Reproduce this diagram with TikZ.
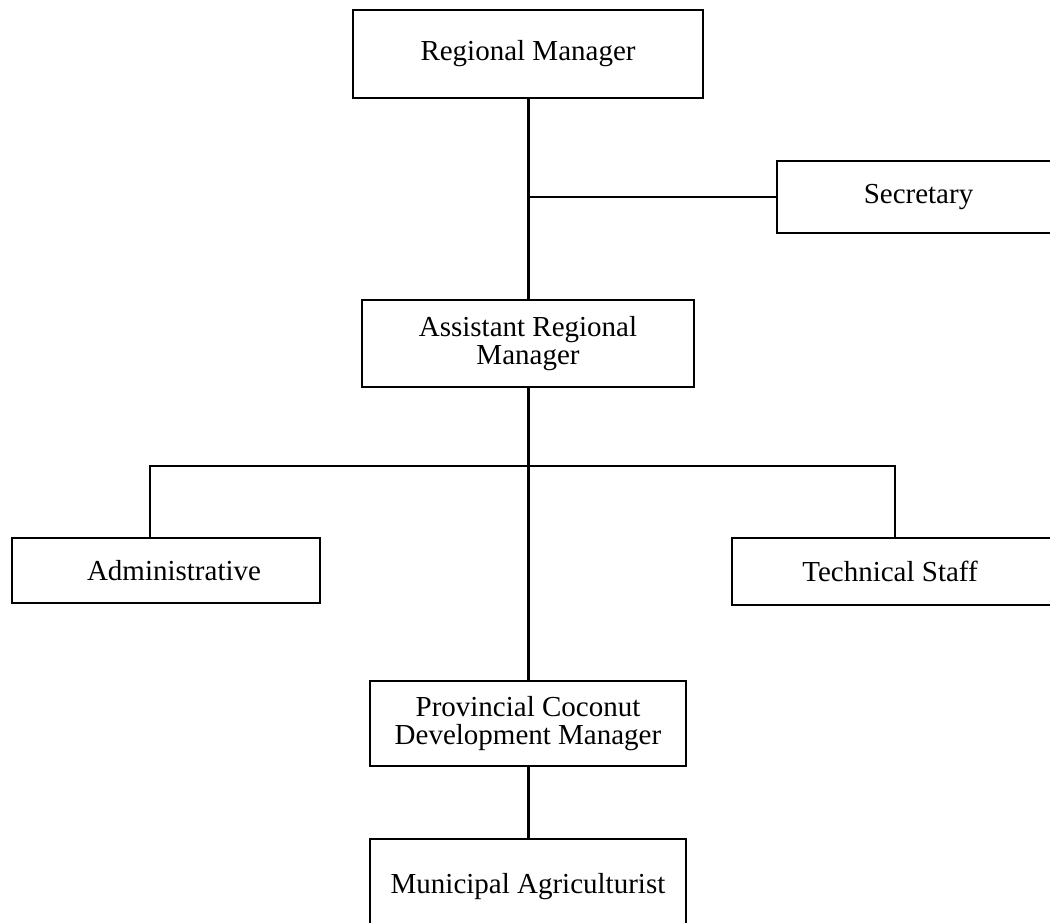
\documentclass[tikz,border=0pt]{standalone}
\usepackage{fontspec}
\setmainfont{Liberation Serif}
\begin{document}
\begin{tikzpicture}[x=1pt,y=-1pt,
  orgbox/.style={draw=black, line width=2pt, rectangle, inner sep=0pt,
    align=center, font=\fontsize{29}{28}\selectfont},
  trunk/.style={draw=black, line width=3pt},
  branch/.style={draw=black, line width=2pt}]
  \useasboundingbox[fill=white] (0,0) rectangle (1050,923);

  % boxes
  \node[orgbox, minimum width=350pt, minimum height=88pt] (rm)   at (528,54)    {Regional Manager};
  \node[orgbox, minimum width=283pt, minimum height=72pt] (sec)  at (918.5,197) {Secretary};
  \node[orgbox, minimum width=332pt, minimum height=87pt] (arm)  at (528,343.5) {Assistant Regional\\Manager};
  \node[orgbox, minimum width=308pt, minimum height=65pt] (adm)  at (166,570.5) {\hspace*{16pt}Administrative};
  \node[orgbox, minimum width=328pt, minimum height=67pt] (tech) at (896,571.5) {Technical Staff\hspace*{12pt}};
  \node[orgbox, minimum width=316pt, minimum height=85pt] (pcdm) at (528,723.5) {Provincial Coconut\\Development Manager};
  \node[orgbox, minimum width=316pt, minimum height=96pt] (ma)   at (528,887)   {Municipal Agriculturist};

  % junction points
  \coordinate (secj) at (528,197);
  \coordinate (busL) at (150,466);
  \coordinate (busR) at (895,466);

  % connectors
  \draw[trunk] (rm.south) -- (arm.north);
  \draw[branch] (secj) -- (sec.west);
  \draw[trunk] (arm.south) -- (pcdm.north);
  \draw[branch] (busL |- adm.north) -- (busL) -- (busR) -- (busR |- tech.north);
  \draw[trunk] (pcdm.south) -- (ma.north);
\end{tikzpicture}
\end{document}
